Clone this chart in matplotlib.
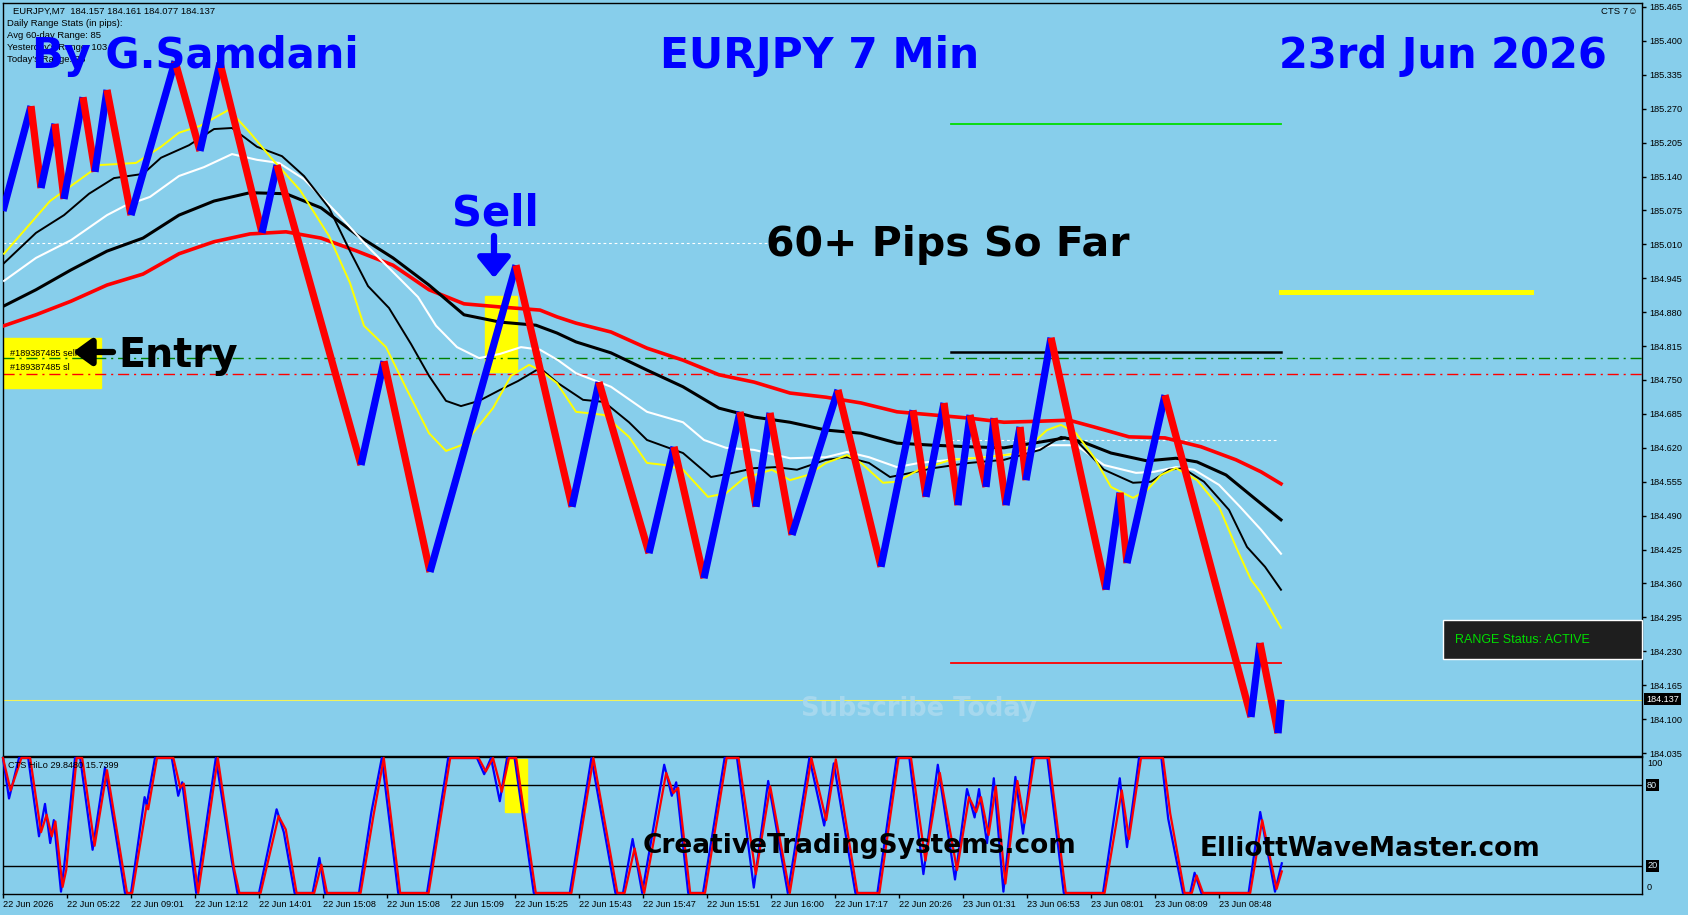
import matplotlib
matplotlib.use('Agg')
from matplotlib import pyplot as plt
from matplotlib.patches import Rectangle

BG = '#87ceeb'
W, H = 1688, 915

# price zigzag pivots (bar index, price)
zz_bar = [0, 7, 9.5, 13, 15.25, 20, 23, 26, 32, 43, 49.25, 54.25, 64.75, 68.5, 89.5, 95.25, 106.75, 128.25,
          142.25, 149, 161.5, 167.75, 175.25, 184.25, 188.25, 191.75, 197.25, 208.75, 219.5, 227.5, 230.75,
          235.25, 238.75, 241.75, 245.75, 247.75, 250.75, 254.25, 255.75, 262, 275.75, 279.25, 281, 290.5,
          312, 314.25, 318.75, 319.5]
zz_price = [185.074, 185.275, 185.118, 185.241, 185.097, 185.292, 185.149, 185.306, 185.066, 185.361, 185.189,
            185.358, 185.032, 185.162, 184.587, 184.786, 184.382, 184.970, 184.507, 184.746, 184.418, 184.622,
            184.370, 184.689, 184.507, 184.687, 184.453, 184.731, 184.392, 184.692, 184.526, 184.706, 184.510,
            184.683, 184.545, 184.677, 184.510, 184.660, 184.558, 184.831, 184.348, 184.534, 184.399, 184.721,
            184.104, 184.246, 184.073, 184.137]

# moving averages
ma_yellow_bar = [0.25, 11.75, 24.25, 33.25, 39.5, 44, 49.25, 56.5, 61.75, 67, 74.25, 81.5, 86.75, 90.25, 95.75,
                 101, 106.5, 110.75, 115.25, 122.5, 127, 131.5, 134.25, 138.5, 143.25, 150.25, 156.5, 161, 165.5,
                 170, 176.25, 180.75, 185.25, 192.25, 196.75, 201.25, 205.75, 211, 214.5, 220, 223.5, 229, 237,
                 245.75, 254.75, 261, 264.5, 268.25, 272.75, 277, 282.5, 286, 289.5, 293.25, 298.5, 304, 308.25,
                 312, 314.5, 319.5]
ma_yellow = [184.992, 185.093, 185.162, 185.166, 185.197, 185.224, 185.237, 185.268, 185.224, 185.176, 185.114,
             185.026, 184.936, 184.854, 184.813, 184.731, 184.648, 184.614, 184.627, 184.696, 184.758, 184.779,
             184.769, 184.744, 184.689, 184.683, 184.641, 184.591, 184.587, 184.578, 184.526, 184.533, 184.562,
             184.578, 184.558, 184.568, 184.591, 184.606, 184.591, 184.553, 184.555, 184.578, 184.597, 184.602,
             184.610, 184.654, 184.664, 184.648, 184.602, 184.545, 184.524, 184.539, 184.568, 184.581, 184.558,
             184.507, 184.430, 184.367, 184.342, 184.275]

ma_black_thin_bar = [0.25, 8.25, 15.25, 21.5, 27.75, 35, 39.5, 46.5, 52.75, 57.25, 63.5, 69.75, 75.25, 81.5,
                     86.75, 91.25, 96.5, 102, 106.5, 110.75, 114.5, 119, 124.25, 128.75, 134.25, 138.75, 145,
                     150.25, 156.5, 161, 170, 177, 182.5, 187.75, 193.25, 198.5, 205.75, 211, 216.5, 221.75, 227,
                     232.5, 241.5, 250.25, 259.25, 264.5, 268.25, 275.25, 282.5, 287, 291.5, 295, 300.25, 306.5,
                     311, 315.5, 319.5]
ma_black_thin = [184.974, 185.032, 185.066, 185.107, 185.137, 185.145, 185.176, 185.200, 185.231, 185.233,
                 185.197, 185.179, 185.141, 185.080, 184.997, 184.930, 184.888, 184.819, 184.758, 184.710,
                 184.700, 184.710, 184.731, 184.748, 184.773, 184.744, 184.712, 184.708, 184.669, 184.635,
                 184.610, 184.564, 184.572, 184.581, 184.583, 184.578, 184.597, 184.602, 184.591, 184.564,
                 184.572, 184.581, 184.591, 184.597, 184.616, 184.641, 184.635, 184.578, 184.553, 184.555,
                 184.578, 184.581, 184.555, 184.501, 184.430, 184.392, 184.348]

ma_white_bar = [0.25, 8.25, 17, 26, 30.5, 36.75, 44, 50.25, 57.25, 63.5, 69, 75.25, 84, 91.25, 97.5, 103.75,
                108.25, 113.5, 119, 124.25, 129.5, 134.25, 138.75, 143.25, 152, 161, 170, 175.25, 180.75, 187.75,
                196.75, 205.75, 211, 216.5, 223.5, 229, 237, 245.75, 254.75, 262, 268.25, 275.25, 283.25, 287.75,
                293.25, 297.75, 304, 309.25, 314.5, 319.5]
ma_white = [184.940, 184.984, 185.018, 185.066, 185.084, 185.101, 185.141, 185.158, 185.183, 185.172, 185.166,
            185.135, 185.066, 185.005, 184.957, 184.909, 184.854, 184.813, 184.792, 184.800, 184.813, 184.808,
            184.788, 184.763, 184.737, 184.689, 184.669, 184.635, 184.620, 184.616, 184.600, 184.602, 184.612,
            184.602, 184.583, 184.591, 184.597, 184.602, 184.610, 184.625, 184.625, 184.587, 184.572, 184.574,
            184.583, 184.578, 184.549, 184.507, 184.463, 184.417]

ma_black_bar = [0.25, 8.25, 17, 26, 35, 44, 52.75, 61.75, 70.75, 79.5, 88.5, 97.5, 106.5, 115.25, 124.25, 133.25,
                138.5, 143.25, 152, 161, 170, 179, 187.75, 196.75, 205.75, 214.5, 223.5, 232.5, 241.5, 250.25,
                259.25, 265.5, 270, 277, 286, 293.25, 298.5, 305.75, 312.75, 319.5]
ma_black = [184.892, 184.923, 184.961, 184.997, 185.022, 185.066, 185.093, 185.109, 185.107, 185.080, 185.028,
            184.984, 184.932, 184.875, 184.861, 184.855, 184.840, 184.823, 184.802, 184.769, 184.737, 184.696,
            184.679, 184.669, 184.654, 184.648, 184.629, 184.625, 184.622, 184.620, 184.631, 184.639, 184.631,
            184.610, 184.595, 184.600, 184.593, 184.568, 184.524, 184.482]

ma_red_bar = [0.25, 8.25, 17, 26, 35, 44, 52.75, 61.75, 70.75, 79.5, 88.5, 97.5, 106.5, 115.25, 124.25, 134.25,
              138.5, 143.25, 152, 161, 170, 179, 187.75, 196.75, 205.75, 214.5, 223.5, 232.5, 241.5, 250.25,
              259.25, 266.5, 272.75, 281.5, 290.5, 299.5, 308.25, 314.5, 319.5]
ma_red = [184.854, 184.875, 184.901, 184.932, 184.953, 184.992, 185.015, 185.030, 185.034, 185.022, 184.997,
          184.970, 184.923, 184.896, 184.890, 184.884, 184.871, 184.859, 184.842, 184.811, 184.788, 184.760,
          184.746, 184.725, 184.717, 184.706, 184.689, 184.683, 184.677, 184.669, 184.671, 184.673, 184.660,
          184.641, 184.639, 184.622, 184.597, 184.574, 184.551]

# oscillator (CTS HiLo)
osc_red_bar = [0, 1.9, 4.6, 6.8, 9.5, 10.9, 12.2, 13.1, 14.9, 15.8, 18.4, 19.8, 22.9, 26, 31, 32.3, 35.9, 36.3,
               38.5, 42.6, 44.3, 45.2, 48.8, 53.7, 57.7, 59.1, 64.4, 68.9, 70.7, 73.4, 77.8, 79.6, 81, 89.4, 92.6,
               95.2, 99.3, 106.4, 111.8, 118.9, 120.7, 122.5, 124.7, 126.5, 128.3, 133.2, 142.1, 147.6, 153.6,
               155.4, 157.9, 160.3, 165.8, 167.6, 168.8, 171.8, 175.5, 180.9, 183.9, 188.2, 191.8, 196.7, 202.1,
               205.8, 208.2, 213.6, 219.1, 223.9, 227, 230.6, 234.2, 238.5, 241.5, 243.3, 244.5, 246.4, 248.2,
               250.6, 253.6, 255.4, 257.9, 261.5, 265.7, 275.4, 279.7, 281.5, 284.5, 290, 291.8, 295.4, 297.2,
               298.4, 300, 311.8, 314.8, 318.4, 319.7]
osc_red = [100, 76, 100, 100, 45, 58, 42, 53, 4.5, 17, 100, 100, 35, 91, 0, 0, 65, 62, 100, 100, 78, 81, 0, 100,
           19, 0, 0, 57, 47, 0, 0, 21, 0, 0, 57, 100, 0, 0, 100, 100, 90, 100, 75, 100, 100, 0, 0, 100, 0, 0, 33,
           0, 89, 74, 78, 0, 0, 100, 100, 14, 79, 0, 100, 54, 99, 0, 0, 100, 100, 24, 89, 17, 71, 60, 71, 43, 79,
           7, 83, 52, 100, 100, 0, 0, 76, 40, 100, 100, 59, 0, 0, 13, 0, 0, 54, 3, 16]
osc_blue_bar = [0, 1.5, 4, 6.3, 9, 10.5, 11.8, 12.7, 14.5, 15.3, 18, 19.3, 22.4, 25.5, 30.5, 32, 35.4, 35.9, 38,
                42.2, 43.8, 44.8, 48.3, 53.2, 57.2, 58.6, 64, 68.4, 70.2, 72.9, 77.4, 79.1, 80.5, 89, 92.1, 94.7,
                98.8, 106, 111.3, 118.5, 120.3, 122, 124.2, 126, 127.9, 132.7, 141.7, 147.1, 153.1, 155, 157.4,
                159.8, 165.3, 167.2, 168.3, 171.3, 175, 180.4, 183.5, 187.7, 191.3, 196.2, 201.6, 205.3, 207.7,
                213.1, 218.6, 223.4, 226.6, 230.1, 233.7, 238, 241, 242.9, 244, 246, 247.7, 250.1, 253.1, 255,
                257.4, 261.1, 265.2, 275, 279.2, 281, 284, 289.6, 291.3, 295, 296.8, 297.9, 299.6, 311.4, 314.3,
                318, 319.7]
osc_blue = [100, 70, 100, 100, 42, 66, 37, 54, 1, 20, 100, 100, 32, 93, 0, 0, 71, 65, 100, 100, 72, 82, 0, 100,
            24, 0, 0, 62, 45, 0, 0, 26, 0, 0, 60, 100, 0, 0, 100, 100, 88, 100, 68, 100, 100, 0, 0, 100, 0, 0, 40,
            0, 95, 72, 82, 0, 0, 100, 100, 4, 83, 0, 100, 50, 96, 0, 0, 100, 100, 14, 95, 10, 77, 56, 77, 37, 85,
            1, 86, 44, 100, 100, 0, 0, 85, 34, 100, 100, 55, 0, 0, 15, 0, 0, 60, 1, 22]

price_ticks = [185.465, 185.400, 185.335, 185.270, 185.205, 185.140, 185.075, 185.010, 184.945, 184.880,
               184.815, 184.750, 184.685, 184.620, 184.555, 184.490, 184.425, 184.360, 184.295, 184.230,
               184.165, 184.100, 184.035]
time_labels = ['22 Jun 2026', '22 Jun 05:22', '22 Jun 09:01', '22 Jun 12:12', '22 Jun 14:01', '22 Jun 15:08',
               '22 Jun 15:08', '22 Jun 15:09', '22 Jun 15:25', '22 Jun 15:43', '22 Jun 15:47', '22 Jun 15:51',
               '22 Jun 16:00', '22 Jun 17:17', '22 Jun 20:26', '23 Jun 01:31', '23 Jun 06:53', '23 Jun 08:01',
               '23 Jun 08:09', '23 Jun 08:48']

last_price = 184.137
entry_price = 184.792
stop_price = 184.762
upper_dot = 185.012
lower_dot = 184.635
range_high = 184.804
range_top = 185.241
range_low = 184.208
target_level = 184.919

SMALL = ['Liberation Sans', 'DejaVu Sans']


def fp(x, y):
    # screen pixel -> figure fraction
    return x / W, 1 - y / H


def ftext(x, y, s, **kw):
    fx, fy = fp(x, y)
    return fig.text(fx, fy, s, **kw)


fig = plt.figure(figsize=(W / 100, H / 100), dpi=100, facecolor=BG)
l, t = fp(3, 3)
r, b = fp(1642, 756)
ax = fig.add_axes([l, b, r - l, t - b], facecolor=BG)
_, ot = fp(0, 757)
_, ob = fp(0, 894)
osc = fig.add_axes([l, ob, r - l, ot - ob], facecolor=BG)

XMAX = 409.75
ax.set_xlim(0, XMAX)
ax.set_ylim(184.0293, 185.4726)
osc.set_xlim(0, XMAX)
osc.set_ylim(-0.74, 100.74)

for a in (ax, osc):
    for s in a.spines.values():
        s.set_color('black')
        s.set_linewidth(1)

ax.set_xticks([])
ax.yaxis.tick_right()
ax.set_yticks(price_ticks)
ax.set_yticklabels([f'{v:.3f}' for v in price_ticks], family=SMALL, fontsize=6.6)
ax.tick_params(axis='y', direction='out', length=3, width=1, pad=2)

osc.set_yticks([])
osc.set_xticks(list(range(0, 16 * len(time_labels), 16)))
osc.set_xticklabels(time_labels, ha='left', family=SMALL, fontsize=6.6)
osc.tick_params(axis='x', direction='out', length=3, width=1, pad=1.5)

# boxes behind everything
ax.add_patch(Rectangle((0, 184.735), 24.5, 0.096, color='#ffff00', zorder=1))
ax.add_patch(Rectangle((120.5, 184.765), 8, 0.146, color='#ffff00', zorder=1))
osc.add_patch(Rectangle((125.5, 60), 5.5, 39.3, color='#ffff00', zorder=1))

# level lines
ax.axhline(entry_price, color='#008000', lw=1, dashes=(8, 3.5, 1.5, 3.5), zorder=2)
ax.axhline(stop_price, color='#ff0000', lw=1, dashes=(8, 3.5, 1.5, 3.5), zorder=2)
ax.axhline(last_price, color='#f2f25a', lw=0.8, zorder=2)
ax.plot([0, 191], [upper_dot, upper_dot], color='white', lw=0.8, dashes=(2.5, 2.5), zorder=2)
ax.plot([237, 318.75], [lower_dot, lower_dot], color='white', lw=0.8, dashes=(2.5, 2.5), zorder=2)
ax.plot([237, 319.5], [range_high, range_high], color='black', lw=1.8, zorder=2)
ax.plot([237, 319.5], [range_top, range_top], color='#00dd00', lw=1.3, zorder=2)
ax.plot([237, 319.5], [range_low, range_low], color='#ff0000', lw=1.3, zorder=2)
ax.plot([319.5, 382], [target_level, target_level], color='#ffff00', lw=3.6, zorder=2)

# moving averages
ax.plot(ma_red_bar, ma_red, color='#ff0000', lw=2.6, zorder=3)
ax.plot(ma_black_bar, ma_black, color='black', lw=2.2, zorder=3)
ax.plot(ma_white_bar, ma_white, color='white', lw=1.5, zorder=3)
ax.plot(ma_black_thin_bar, ma_black_thin, color='black', lw=1.4, zorder=3)
ax.plot(ma_yellow_bar, ma_yellow, color='#ffff00', lw=1.4, zorder=3)

# price path
for i in range(len(zz_bar) - 1):
    c = '#0000ff' if zz_price[i + 1] > zz_price[i] else '#ff0000'
    ax.plot(zz_bar[i:i + 2], zz_price[i:i + 2], color=c, lw=5.2, solid_capstyle='butt', zorder=5)

# oscillator
osc.axhline(80, color='black', lw=1, zorder=2)
osc.axhline(20, color='black', lw=1, zorder=2)
osc.plot(osc_blue_bar, osc_blue, color='#0000ff', lw=1.6, zorder=3, clip_on=False)
osc.plot(osc_red_bar, osc_red, color='#ff0000', lw=1.6, zorder=4, clip_on=False)

# header info
info = ['EURJPY,M7  184.157 184.161 184.077 184.137', 'Daily Range Stats (in pips):',
        'Avg 60-day Range: 85', "Yesterday's Range: 103", "Today's Range: 76"]
for k, (yy, s) in enumerate(zip([11, 23.5, 35.5, 47.5, 59.5], info)):
    ftext(13 if k == 0 else 7, yy, s, family=SMALL, fontsize=6.8, va='center', color='black')
ftext(1638, 12, 'CTS 7\u263a', family=SMALL, fontsize=6.8, va='center', ha='right')

BIG = dict(family='DejaVu Sans', fontweight='bold', ha='center', va='baseline')
ftext(195, 68, 'By G.Samdani', color='#0000ff', fontsize=30, **BIG)
ftext(820, 68, 'EURJPY 7 Min', color='#0000ff', fontsize=30.5, **BIG)
ftext(1443, 68, '23rd Jun 2026', color='#0000ff', fontsize=30, **BIG)
ftext(495, 226, 'Sell', color='#0000ff', fontsize=30, **BIG)
ftext(948, 256, '60+ Pips So Far', color='black', fontsize=29.5, **BIG)
ftext(178, 367, 'Entry', color='black', fontsize=28.5, **BIG)
ftext(919, 716, 'Subscribe Today', color='#a6d8ee', fontsize=18.5, **BIG)
ftext(860, 853, 'CreativeTradingSystems.com', color='black', fontsize=19, **BIG)
ftext(1370, 856, 'ElliottWaveMaster.com', color='black', fontsize=19, **BIG)

ax.annotate('', xy=(494, H - 278), xytext=(494, H - 236), xycoords='figure pixels',
            textcoords='figure pixels',
            arrowprops=dict(arrowstyle='-|>,head_width=0.45,head_length=0.55', lw=4.5, color='#0000ff',
                            mutation_scale=22, shrinkA=0, shrinkB=0))
ax.annotate('', xy=(73, H - 352), xytext=(113, H - 352), xycoords='figure pixels',
            textcoords='figure pixels',
            arrowprops=dict(arrowstyle='-|>,head_width=0.4,head_length=0.55', lw=4.5, color='black',
                            mutation_scale=20, shrinkA=0, shrinkB=0))

ftext(10, 353, '#189387485 sell', family=SMALL, fontsize=6.6, va='center')
ftext(10, 368, '#189387485 sl', family=SMALL, fontsize=6.6, va='center')
ftext(8, 766, 'CTS HiLo 29.8480 15.7399', family=SMALL, fontsize=6.6, va='center')

# range status box
bx, by = fp(1443, 659)
bw = (1642 - 1443) / W
bh = (659 - 620) / H
fig.patches.append(Rectangle((bx, by), bw, bh, transform=fig.transFigure, facecolor='#1e1e1e',
                             edgecolor='white', lw=1, zorder=5))
ftext(1455, 640, 'RANGE Status: ACTIVE', family=SMALL, fontsize=9, va='center', color='#00dd00', zorder=6)

# right axis markers
ftext(1646, 699, '184.137', family=SMALL, fontsize=6.6, va='center', color='white',
      bbox=dict(facecolor='black', edgecolor='none', pad=1.2))
ftext(1647, 764, '100', family=SMALL, fontsize=6.6, va='center')
ftext(1647, 785, '80', family=SMALL, fontsize=6.6, va='center', color='#d8eef8',
      bbox=dict(facecolor='black', edgecolor='none', pad=1))
ftext(1647, 866, '20', family=SMALL, fontsize=6.6, va='center', color='#d8eef8',
      bbox=dict(facecolor='black', edgecolor='none', pad=1))
ftext(1647, 887, '0', family=SMALL, fontsize=6.6, va='center')

fig.savefig('out.png', dpi=100, facecolor=BG)
